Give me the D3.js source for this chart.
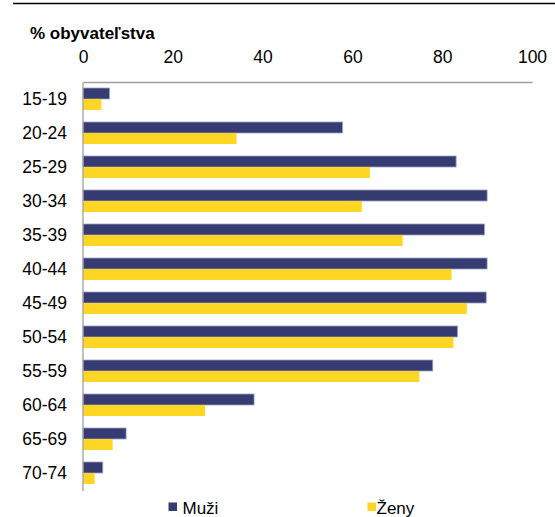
<!DOCTYPE html>
<html>
<head>
<meta charset="utf-8">
<script src="https://cdn.jsdelivr.net/npm/d3@7"></script>
<style>
  html, body { margin: 0; padding: 0; background: #fff; }
  svg { display: block; font-family: "Liberation Sans", Arial, sans-serif; }
</style>
</head>
<body>
<svg id="chart" width="555" height="517"></svg>
<script>
// Age groups and share of population (%) by sex
const categories = ["15-19", "20-24", "25-29", "30-34", "35-39", "40-44",
                    "45-49", "50-54", "55-59", "60-64", "65-69", "70-74"];
const muzi = [5.9, 57.8, 83.1, 90.0, 89.4, 90.0, 89.8, 83.4, 77.9, 38.1, 9.6, 4.4];
const zeny = [4.1, 34.2, 63.9, 62.1, 71.2, 82.1, 85.5, 82.5, 74.9, 27.2, 6.6, 2.6];
const xTicks = [0, 20, 40, 60, 80, 100];
const seriesNames = ["Muži", "Ženy"];
const colors = ["#363c72", "#ffd624"];

const svg = d3.select("#chart");
const plotLeft = 83, plotRight = 532, plotTop = 82, plotBottom = 490;

const x = d3.scaleLinear().domain([0, 100]).range([plotLeft, plotRight]);
const y = d3.scaleBand().domain(categories).range([plotTop, plotBottom]).paddingInner(0).paddingOuter(0);
const inner = d3.scaleBand().domain(seriesNames).range([6, y.bandwidth() - 6]);

// rule along the top edge
svg.append("line")
  .attr("x1", 13).attr("x2", 555).attr("y1", 3.5).attr("y2", 3.5)
  .attr("stroke", "#000").attr("stroke-width", 1.3);

// title
svg.append("text")
  .attr("x", 30).attr("y", 38.5)
  .attr("font-size", 17).attr("font-weight", "bold").attr("fill", "#000")
  .text("% obyvateľstva");

// top value axis
const xAxis = svg.append("g")
  .attr("transform", `translate(0,${plotTop})`)
  .call(d3.axisTop(x).tickValues(xTicks).tickSize(0).tickPadding(19).tickFormat(d3.format("d")));
xAxis.select(".domain").attr("stroke", "#a0a0a0").attr("stroke-width", 1.3);
xAxis.selectAll("text").attr("font-size", 17.5).attr("fill", "#000")
  .attr("font-family", "Liberation Sans, Arial, sans-serif");

// bars
const rows = svg.append("g").selectAll("g")
  .data(categories)
  .join("g")
  .attr("transform", d => `translate(0,${y(d)})`);

const seriesData = [muzi, zeny];
seriesNames.forEach((name, si) => {
  rows.append("rect")
    .attr("x", x(0))
    .attr("y", inner(name))
    .attr("width", (d, i) => x(seriesData[si][i]) - x(0))
    .attr("height", inner.bandwidth())
    .attr("fill", colors[si])
    .attr("stroke", si === 0 ? "#9aa0c4" : "none")
    .attr("stroke-width", 0.8);
});

// category axis
const yAxis = svg.append("g")
  .attr("transform", `translate(${plotLeft},0)`)
  .call(d3.axisLeft(y).tickSize(0).tickPadding(16));
yAxis.select(".domain").attr("stroke", "#a0a0a0").attr("stroke-width", 1.3)
  .attr("d", `M0,${plotTop}V${plotBottom + 1}`);
yAxis.selectAll("text").attr("font-size", 17.5).attr("fill", "#000")
  .attr("font-family", "Liberation Sans, Arial, sans-serif");

// legend
const legendX = [168.5, 367.5];
const legend = svg.append("g").selectAll("g")
  .data(seriesNames)
  .join("g")
  .attr("transform", (d, i) => `translate(${legendX[i]},502.5)`);
legend.append("rect")
  .attr("width", 8.5).attr("height", 8.5)
  .attr("fill", (d, i) => colors[i]);
legend.append("text")
  .attr("x", (d, i) => i === 0 ? 14 : 9)
  .attr("y", 11.5)
  .attr("font-size", 17).attr("fill", "#000")
  .text(d => d);
</script>
</body>
</html>
